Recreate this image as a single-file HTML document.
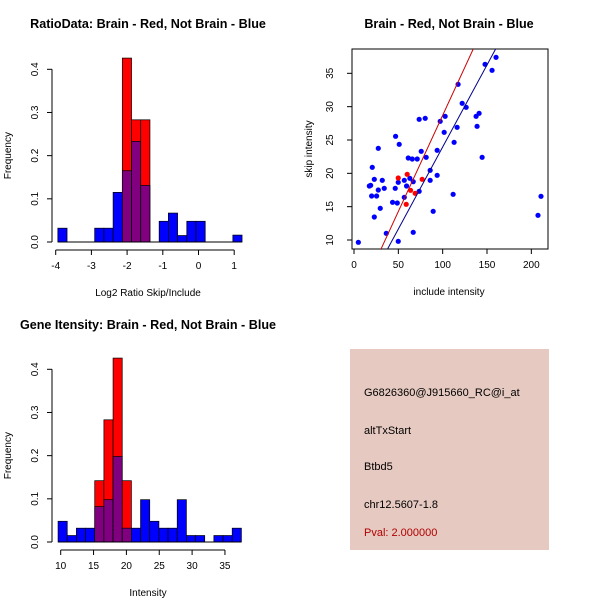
<!DOCTYPE html>
<html><head><meta charset="utf-8"><style>
body{margin:0;background:#fff;}
svg{display:block;font-family:"Liberation Sans",sans-serif;}
</style></head><body>
<svg id="c" width="600" height="600" viewBox="0 0 600 600">
<rect width="600" height="600" fill="#fff"/>
<g>
<rect x="350" y="349" width="199" height="201" fill="#e6c9c0"/>
<text x="364" y="396" font-size="11">G6826360@J915660_RC@i_at</text>
<text x="364" y="434" font-size="11">altTxStart</text>
<text x="364" y="470" font-size="11">Btbd5</text>
<text x="364" y="508" font-size="11">chr12.5607-1.8</text>
<text x="364" y="536" font-size="11" fill="#b00000">Pval: 2.000000</text>
</g>
</svg>
<script>
// Ratio histogram
const ratioStart = -3.94, ratioWidth = 0.258;
const ratioBlue = [0.032,0,0,0,0.032,0.032,0.115,0.165,0.233,0.131,0,0.048,0.067,0.015,0.048,0.048,0,0,0,0.016];
const ratioRed  = [0,0,0,0,0,0,0,0.426,0.283,0.283,0,0,0,0,0,0,0,0,0,0];
const ratioXTicks = [-4,-3,-2,-1,0,1];
const freqTicks = [0,0.1,0.2,0.3,0.4];
// Intensity histogram
const intStart = 9.6, intWidth = 1.395;
const intBlue = [0.048,0.015,0.032,0.032,0.082,0.098,0.198,0.032,0.032,0.098,0.048,0.032,0.032,0.098,0.015,0.015,0,0.015,0.015,0.032];
const intRed  = [0,0,0,0,0.142,0.283,0.426,0.142,0,0,0,0,0,0,0,0,0,0,0,0];
const intXTicks = [10,15,20,25,30,35];
// Scatter
const blueX = [4.9,17.3,18.8,19.9,25.5,20.6,22.9,22.9,27.4,27.4,29.6,31.9,34.1,36.4,43.5,46.5,46.9,48.8,49.9,49.9,51.0,56.7,56.7,59.3,61.2,63.0,65.7,66.8,66.8,71.3,73.5,73.5,75.8,80.3,81.4,85.9,85.9,89.3,93.8,93.8,97.2,101.7,102.8,111.8,112.9,116.3,117.4,122.0,126.5,137.7,138.8,141.1,144.5,147.8,155.7,160.2,207.5,210.9];
const blueY = [9.65,18.1,18.2,16.6,16.6,20.9,19.1,13.45,23.75,17.5,14.75,18.95,17.75,11.0,15.65,17.75,25.55,15.55,18.65,9.8,24.35,16.4,18.95,18.1,22.3,19.25,22.15,18.75,11.15,22.15,28.1,17.3,23.3,28.25,22.4,20.45,18.95,14.3,23.45,19.7,27.8,26.15,28.55,16.85,24.65,26.9,33.35,30.5,29.9,28.55,27.05,29.0,22.4,36.35,35.45,37.4,13.7,16.55];
const redX = [49.9,60.0,63.8,69.0,76.9,58.9];
const redY = [19.3,19.85,17.45,17.0,19.1,15.35];
const redLine = [-0.14,0.2884];
const blueLine = [-0.66,0.2461];
const scXTicks = [0,50,100,150,200];
const scYTicks = [10,15,20,25,30,35];

const svg = document.getElementById('c');
const NS = 'http://www.w3.org/2000/svg';
function mk(tag, attrs, parent){const e=document.createElementNS(NS,tag);for(const k in attrs)e.setAttribute(k,attrs[k]);(parent||svg).appendChild(e);return e;}
function txt(x,y,s,size,extra,parent){const t=mk('text',Object.assign({x:x,y:y,'font-size':size,'text-anchor':'middle'},extra||{}),parent);t.textContent=s;return t;}

function hist(name, title, titleY, xlabel, start, width, blue, red, xticks, xMap, yBase, yTop, axisY){
  const g = mk('g',{});
  
  
  const yMap = v => yBase - v/0.4*(yBase-yTop);
  for(let i=0;i<blue.length;i++){
    const x0 = xMap(start+i*width), x1 = xMap(start+(i+1)*width);
    if(red[i]>0){
      const r = mk('rect',{x:x0,y:yMap(red[i]),width:x1-x0,height:yBase-yMap(red[i]),fill:'#ff0000',stroke:'#000','stroke-width':0.7},g);
      
      
    }
    if(blue[i]>0){
      const b = mk('rect',{x:x0,y:yMap(blue[i]),width:x1-x0,height:yBase-yMap(blue[i]),fill:red[i]>0?'#800080':'#0000ff',stroke:'#000','stroke-width':0.7},g);
      
      
    }
  }
  mk('line',{x1:xMap(start),x2:xMap(start+blue.length*width),y1:yBase,y2:yBase,stroke:'#000','stroke-width':1},g);
  const ax = 52;
  mk('line',{x1:ax,x2:ax,y1:yMap(0),y2:yMap(0.4),stroke:'#000'},g);
  freqTicks.forEach(v=>{
    mk('line',{x1:ax-5,x2:ax,y1:yMap(v),y2:yMap(v),stroke:'#000'},g);
    txt(38,yMap(v),v.toFixed(1),10,{transform:`rotate(-90 38 ${yMap(v)})`},g);
  });
  mk('line',{x1:xMap(xticks[0]),x2:xMap(xticks[xticks.length-1]),y1:axisY,y2:axisY,stroke:'#000'},g);
  xticks.forEach(v=>{
    mk('line',{x1:xMap(v),x2:xMap(v),y1:axisY,y2:axisY+5,stroke:'#000'},g);
    txt(xMap(v),axisY+19,String(v),10,{},g);
  });
  const t=txt(148,titleY,title,12.6,{'font-weight':'bold'},g);
  
  
  const xl=txt(148,axisY+46,xlabel,10,{},g);
  
  
  const fy=(yBase+yTop)/2;
  const yl=txt(11,fy,'Frequency',10,{transform:`rotate(-90 11 ${fy})`},g);
  
  
}
hist('ratio-histogram','RatioData: Brain - Red, Not Brain - Blue',28,'Log2 Ratio Skip/Include',ratioStart,ratioWidth,ratioBlue,ratioRed,ratioXTicks,v=>55.7+(v+4)*35.7,242,69.3,250);
hist('intensity-histogram','Gene Itensity: Brain - Red, Not Brain - Blue',329,'Intensity',intStart,intWidth,intBlue,intRed,intXTicks,v=>60.7+(v-10)*6.57,542,369.3,550);

const sg = mk('g',{});


const sx = v => 354 + v*0.8867;
const sy = v => 240 - (v-10)*6.667;
mk('clipPath',{id:'cp'},sg);
mk('rect',{x:352,y:49,width:196,height:200},document.getElementById('cp'));
mk('rect',{x:352,y:49,width:196,height:200,fill:'none',stroke:'#000'},sg);
scXTicks.forEach(v=>{mk('line',{x1:sx(v),x2:sx(v),y1:249,y2:254,stroke:'#000'},sg);txt(sx(v),268,String(v),10,{},sg);});
scYTicks.forEach(v=>{mk('line',{x1:347,x2:352,y1:sy(v),y2:sy(v),stroke:'#000'},sg);txt(333,sy(v),String(v),10,{transform:`rotate(-90 333 ${sy(v)})`},sg);});
const lg = mk('g',{'clip-path':'url(#cp)'},sg);
for(let i=0;i<blueX.length;i++){const c=mk('circle',{cx:sx(blueX[i]),cy:sy(blueY[i]),r:2.6,fill:'#0000ff'},lg);}
for(let i=0;i<redX.length;i++){const c=mk('circle',{cx:sx(redX[i]),cy:sy(redY[i]),r:2.6,fill:'#ff0000'},lg);}
const rl=mk('line',{x1:sx(-10),y1:sy(redLine[0]-10*redLine[1]),x2:sx(230),y2:sy(redLine[0]+230*redLine[1]),stroke:'#cc0000','stroke-width':1},lg);

const bl=mk('line',{x1:sx(-10),y1:sy(blueLine[0]-10*blueLine[1]),x2:sx(230),y2:sy(blueLine[0]+230*blueLine[1]),stroke:'#00008b','stroke-width':1},lg);

const st=txt(449,28,'Brain - Red, Not Brain - Blue',12.6,{'font-weight':'bold'},sg);

const sxl=txt(449,295,'include intensity',10,{},sg);

const syl=txt(312,149,'skip intensity',10,{transform:'rotate(-90 312 149)'},sg);

</script>
</body></html>
